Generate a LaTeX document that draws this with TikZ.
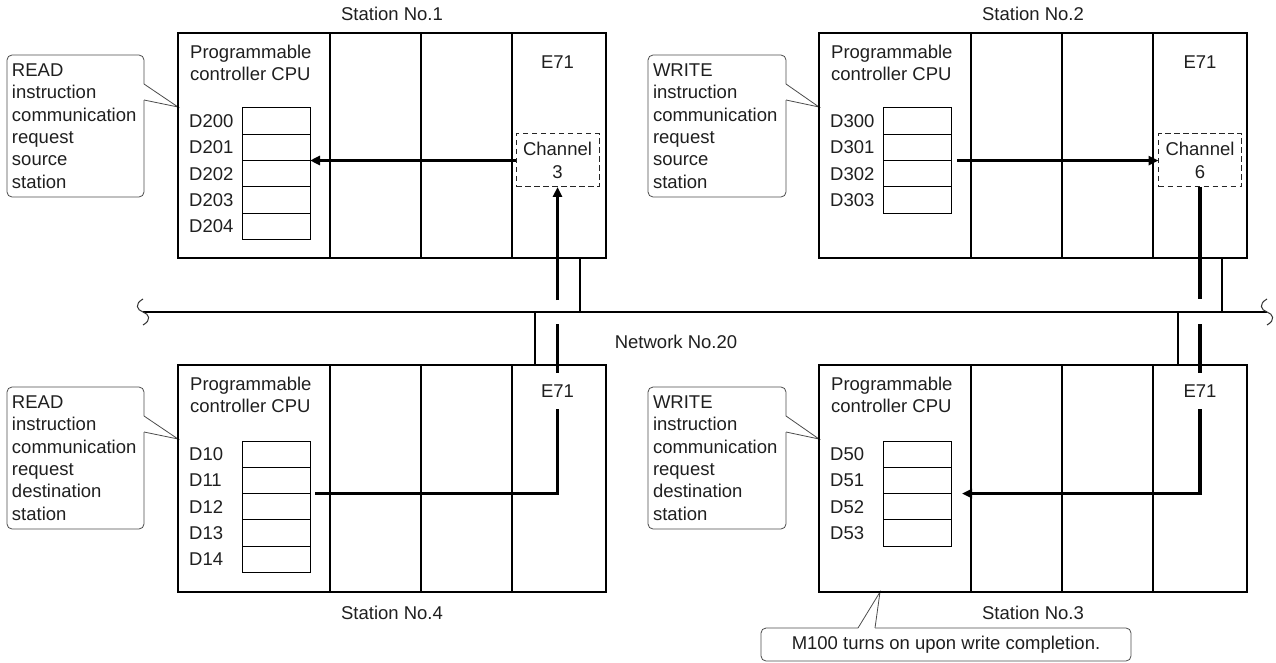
\documentclass[tikz,border=0pt]{standalone}
\usepackage{fontspec}
\setmainfont{Liberation Sans}
\usetikzlibrary{arrows.meta,positioning}

\begin{document}
\begin{tikzpicture}[x=1pt,y=-1pt,>={Triangle[length=10pt,width=9pt]},line cap=butt,
  txt/.style={inner sep=0,text=black!88,font=\fontsize{18.5}{22.3}\selectfont},
  station/.style={draw,line width=2.5pt,anchor=north west,inner sep=0,outer sep=0,minimum width=428pt},
  divider/.style={line width=2.5pt},
  reg/.style={draw,line width=1pt,anchor=north west,inner sep=0,outer sep=0,minimum width=68pt,minimum height=26.3pt},
  chan/.style={txt,draw=black!85,line width=1pt,dash pattern=on 5.5pt off 3.5pt,align=center,minimum width=83pt,minimum height=53pt,outer sep=0},
  note/.style={txt,draw=black!70,line width=0.8pt,rounded corners=5pt,outer sep=0},
  notepin/.style={draw=black!70,line width=0.8pt,line join=miter},
  wire/.style={line width=3.2pt},
  link/.style={line width=2pt},
  bus/.style={line width=2.6pt},
  wave/.style={line width=1pt,draw=black!80}]
\useasboundingbox (0,0) rectangle (1276,663);

% callouts
\node[note,minimum width=137pt,minimum height=142pt,text width=127pt,align=left] (c1) at (75.5,126) {READ\\instruction\\communication\\request\\source\\station};
\node[note,minimum width=138pt,minimum height=142pt,text width=128pt,align=left] (c2) at (717,126) {WRITE\\instruction\\communication\\request\\source\\station};
\node[note,minimum width=137pt,minimum height=142pt,text width=127pt,align=left] (c4) at (75.5,458) {READ\\instruction\\communication\\request\\destination\\station};
\node[note,minimum width=138pt,minimum height=142pt,text width=128pt,align=left] (c3) at (717,458) {WRITE\\instruction\\communication\\request\\destination\\station};
\node[note,minimum width=370pt,minimum height=33pt] (c5) at (946,644.5) {M100 turns on upon write completion.};

\coordinate (k1) at (178,107);
\coordinate (k2) at (819,107);
\coordinate (k4) at (178,439);
\coordinate (k3) at (819,439);
\coordinate (k5) at (880,592);
\foreach \c in {1,2,3,4} {
  \fill[white] ([shift={(-1,29)}]c\c.north east) -- (k\c) -- ([shift={(-1,45)}]c\c.north east) -- cycle;
  \draw[notepin] ([shift={(0,29)}]c\c.north east) -- (k\c) -- ([shift={(0,45)}]c\c.north east);
}
\fill[white] ([shift={(97,1)}]c5.north west) -- (k5) -- ([shift={(114,1)}]c5.north west) -- cycle;
\draw[notepin] ([shift={(97,0)}]c5.north west) -- (k5) -- ([shift={(114,0)}]c5.north west);

% stations
\node[station,minimum height=225pt] (s1) at (178,33) {};
\node[station,minimum height=225pt] (s2) at (819,33) {};
\node[station,minimum height=227pt] (s4) at (178,365) {};
\node[station,minimum height=227pt] (s3) at (819,365) {};
\foreach \s in {s1,s2,s3,s4}
  \foreach \d in {152,243,334}
    \draw[divider] ([xshift=\d]\s.north west) -- ([xshift=\d]\s.south west);

\node[txt,above=12.5pt of s1.north] (t1) {Station No.1};
\node[txt,above=12.5pt of s2.north] (t2) {Station No.2};
\node[txt,below=13.5pt of s4.south] (t4) {Station No.4};
\node[txt,below=13.5pt of s3.south] (t3) {Station No.3};

\foreach \s in {1,2,3,4}
  \node[txt,align=left,anchor=north west] (p\s) at ([shift={(12,12)}]s\s.north west) {Programmable\\controller CPU};

% registers
\foreach \n [count=\i from 0] in {D200,D201,D202,D203,D204} {
  \node[reg] (r1-\i) at ([shift={(64,75+26.3*\i)}]s1.north west) {};
  \node[txt,anchor=west] (l1-\i) at ([xshift=-53]r1-\i.west) {\n};
}
\foreach \n [count=\i from 0] in {D300,D301,D302,D303} {
  \node[reg] (r2-\i) at ([shift={(64,75+26.3*\i)}]s2.north west) {};
  \node[txt,anchor=west] (l2-\i) at ([xshift=-53]r2-\i.west) {\n};
}
\foreach \n [count=\i from 0] in {D50,D51,D52,D53} {
  \node[reg] (r3-\i) at ([shift={(64,76+26.3*\i)}]s3.north west) {};
  \node[txt,anchor=west] (l3-\i) at ([xshift=-53]r3-\i.west) {\n};
}
\foreach \n [count=\i from 0] in {D10,D11,D12,D13,D14} {
  \node[reg] (r4-\i) at ([shift={(64,76+26.3*\i)}]s4.north west) {};
  \node[txt,anchor=west] (l4-\i) at ([xshift=-53]r4-\i.west) {\n};
}

% E71 modules
\node[txt] (e1) at (557.5,62) {E71};
\node[txt] (e2) at (1200,62) {E71};
\node[txt,minimum height=36pt] (e4) at (557.5,391) {E71};
\node[txt,minimum height=36pt] (e3) at (1200,391) {E71};
\node[chan] (ch1) at (557.5,160.5) {Channel\\3};
\node[chan] (ch2) at (1200,160.5) {Channel\\6};

% network
\coordinate (busL) at (143,312);
\coordinate (busR) at (1267,312);
\draw[bus] (busL) -- (busR);
\foreach \b in {busL,busR}
  \draw[wave] ([shift={(0,-13)}]\b) .. controls ([shift={(-9,-8)}]\b) and ([shift={(-6,-2)}]\b) .. (\b)
    .. controls ([shift={(6,2)}]\b) and ([shift={(9,8)}]\b) .. ([shift={(0,13)}]\b);
\node[txt] (net) at (676,342) {Network No.20};

\coordinate (j1) at (580,0);
\coordinate (j2) at (1222,0);
\coordinate (j4) at (535,0);
\coordinate (j3) at (1178,0);
\draw[link] (s1.south -| j1) -- (busL -| j1);
\draw[link] (s2.south -| j2) -- (busL -| j2);
\draw[link] (busL -| j4) -- (s4.north -| j4);
\draw[link] (busL -| j3) -- (s3.north -| j3);

% data paths
\coordinate (g1) at (557.5,300);
\coordinate (g2) at (1200,299);
\coordinate (g4) at (557.5,324);
\coordinate (g3) at (1200,324);
\draw[wire,->] (g1) -- (ch1.south);
\draw[wire,->] (ch1.west) -- (ch1.west -| r1-2.north east);
\draw[wire,->] ([xshift=6]r2-2.north east) -- (r2-2.north east -| ch2.west);
\draw[wire] (ch2.south) -- (g2);
\draw[wire] (g4) -- (e4.north);
\draw[wire] (e4.south) |- ([xshift=5]r4-2.north east);
\draw[wire] (g3) -- (e3.north);
\draw[wire,->] (e3.south) |- ([xshift=11]r3-2.north east);
\end{tikzpicture}
\end{document}
